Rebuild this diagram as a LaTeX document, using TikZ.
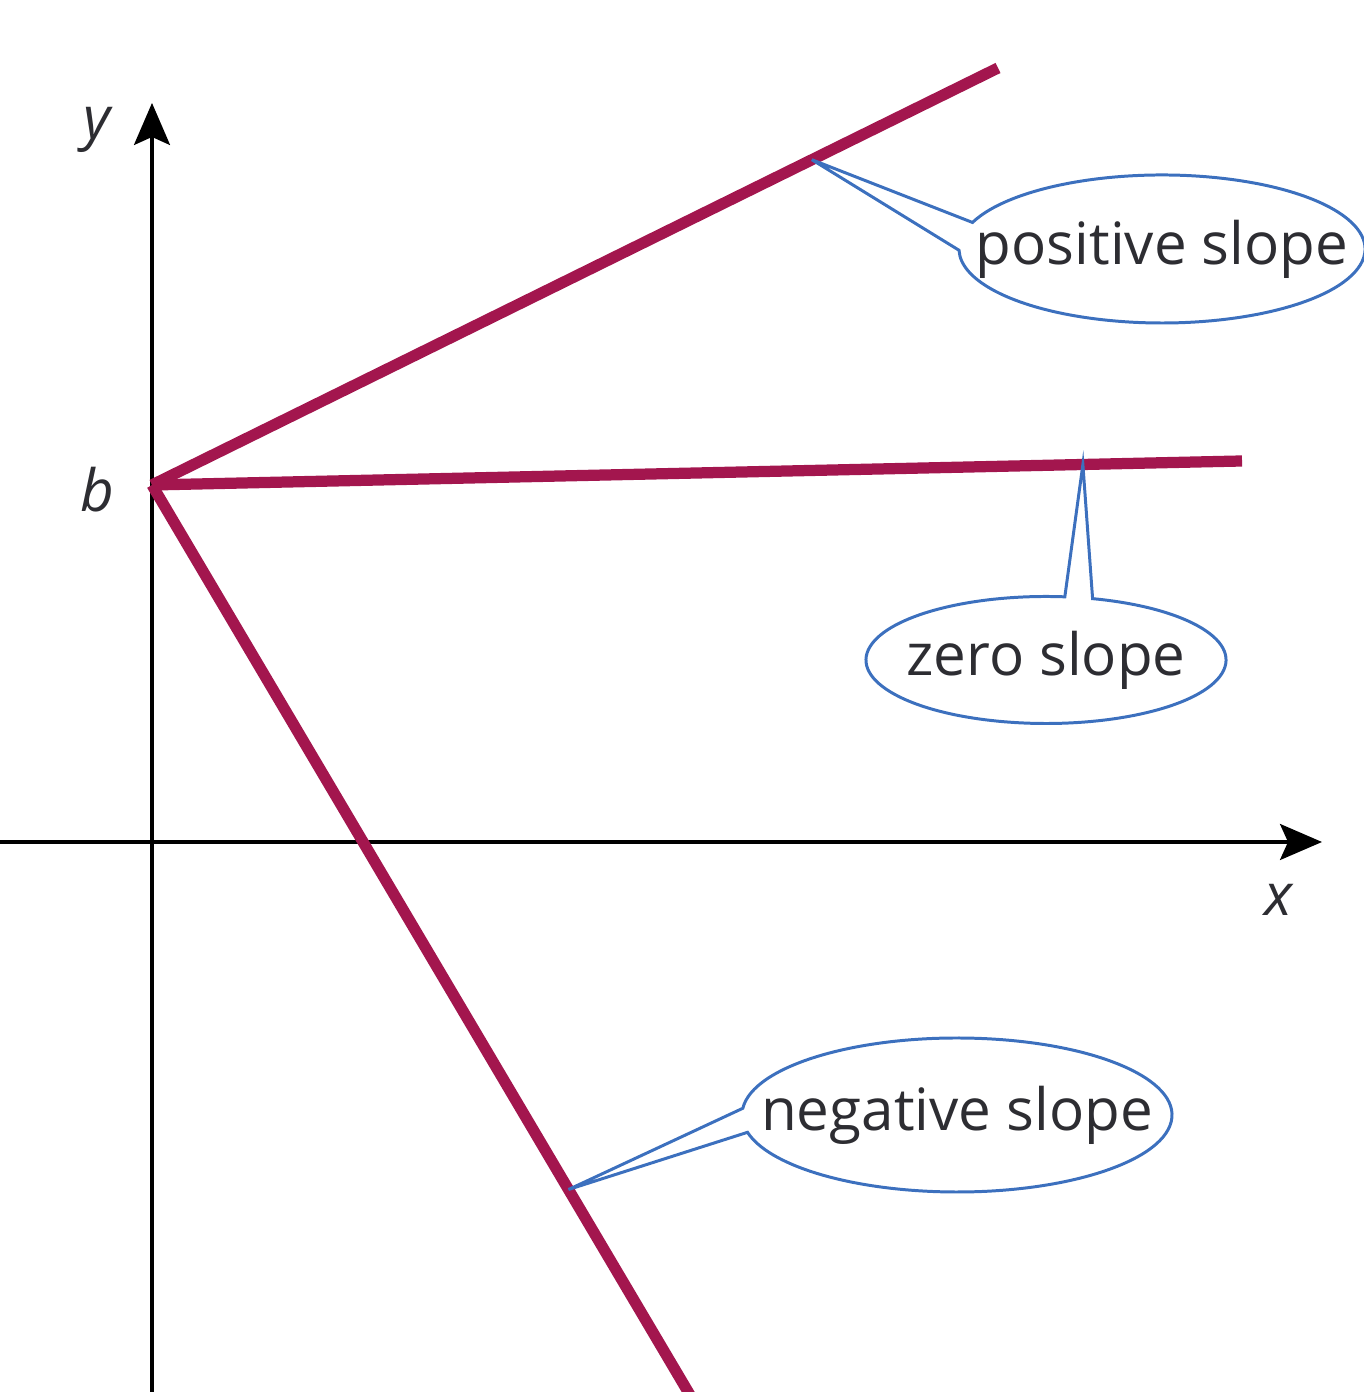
\documentclass[tikz,border=0pt]{standalone}
\usepackage{fontspec}
\setmainfont{Open Sans}
\usepackage{tikz}
\usetikzlibrary{arrows.meta,shapes.geometric}

\definecolor{slopered}{RGB}{163,22,78}
\definecolor{calloutblue}{RGB}{60,112,190}
\definecolor{labelgray}{RGB}{45,45,50}

\begin{document}
\begin{tikzpicture}[
    axis/.style={line width=0.9pt, black},
    axisarrow/.style={axis, -{Stealth[length=0.42cm, width=0.36cm, inset=0.08cm]}},
    slope/.style={line width=3.2pt, slopered},
    axlabel/.style={font=\fontsize{16.6}{19}\selectfont\itshape, text=labelgray, inner sep=0pt},
    bubble/.style={ellipse, inner sep=0pt, text=labelgray, font=\fontsize{16.6}{19}\selectfont},
    bubbleline/.style={draw=calloutblue, line width=0.85pt}
]
    \useasboundingbox (0,0) rectangle (13.63,13.92);

    % Axes
    \coordinate (xstart) at (0,5.50);
    \coordinate (xend) at (13.22,5.50);
    \coordinate (ystart) at (1.52,-0.2);
    \coordinate (yend) at (1.52,12.89);
    \draw[axisarrow] (xstart) -- (xend);
    \draw[axisarrow] (ystart) -- (yend);

    \node[axlabel] (ylab) at (0.97,12.62) {y};
    \node[axlabel] (xlab) at (12.78,4.92) {x};
    \node[axlabel] (blab) at (0.97,9.02) {b};

    % Lines through b
    \coordinate (orig) at (1.52,9.07);
    \coordinate (posend) at (9.98,13.24);
    \coordinate (zeroend) at (12.42,9.31);
    \coordinate (negend) at (7.00,-0.20);
    \draw[slope] (orig) -- (posend);
    \draw[slope] (orig) -- (zeroend);
    \draw[slope] (orig) -- (negend);

    % Points the callouts aim at
    \path (orig) -- (posend) coordinate[pos=0.78] (postip);
    \path (orig) -- (zeroend) coordinate[pos=0.854] (zerotip);
    \path (orig) -- (negend) coordinate[pos=0.76] (negtip);

    % Callouts
    \node[bubble, minimum width=4.06cm, minimum height=1.48cm] (poscall) at (11.62,11.43) {positive slope};
    \node[bubble, minimum width=3.60cm, minimum height=1.27cm] (zerocall) at (10.46,7.32) {zero slope};
    \node[bubble, minimum width=4.30cm, minimum height=1.54cm] (negcall) at (9.57,2.77) {negative slope};

    \draw[bubbleline] (postip) -- ([shift={(159:2.03cm and 0.74cm)}]poscall.center)
        arc[start angle=159, end angle=-179, x radius=2.03cm, y radius=0.74cm] -- cycle;
    \draw[bubbleline] (zerotip) -- ([shift={(75:1.80cm and 0.635cm)}]zerocall.center)
        arc[start angle=75, end angle=-276, x radius=1.80cm, y radius=0.635cm] -- cycle;
    \draw[bubbleline] (negtip) -- ([shift={(175:2.15cm and 0.77cm)}]negcall.center)
        arc[start angle=175, end angle=-167, x radius=2.15cm, y radius=0.77cm] -- cycle;
\end{tikzpicture}
\end{document}
